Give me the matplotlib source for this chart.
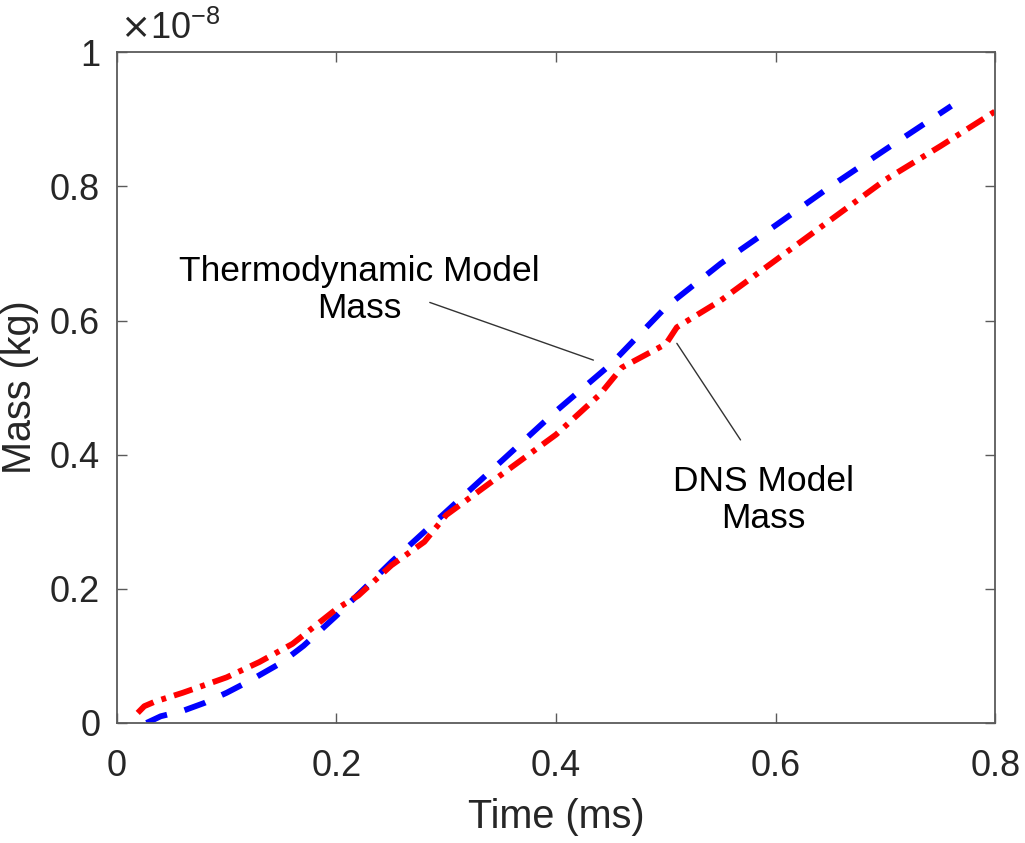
import matplotlib
matplotlib.use('Agg')
import matplotlib.pyplot as plt

plt.rcParams['font.family'] = ['Liberation Sans', 'DejaVu Sans']
plt.rcParams['lines.scale_dashes'] = False

# ── Data (mass in units of 1e-8 kg) ─────────────────────────
thermo_t = [0.027, 0.04, 0.06, 0.08, 0.10, 0.12, 0.15, 0.17, 0.20, 0.25,
            0.30, 0.35, 0.40, 0.45, 0.50, 0.55, 0.60, 0.65, 0.70, 0.76]
thermo_m = [0.0, 0.010, 0.018, 0.030, 0.045, 0.062, 0.090, 0.115, 0.160, 0.240,
            0.315, 0.390, 0.465, 0.535, 0.620, 0.685, 0.742, 0.800, 0.855, 0.920]

dns_t = [0.019, 0.025, 0.035, 0.06, 0.10, 0.13, 0.16, 0.20, 0.22, 0.25, 0.28,
         0.30, 0.35, 0.40, 0.44, 0.46, 0.50, 0.51, 0.55, 0.60, 0.65, 0.70,
         0.75, 0.80]
dns_m = [0.015, 0.025, 0.032, 0.045, 0.068, 0.091, 0.118, 0.170, 0.190, 0.235,
         0.270, 0.310, 0.370, 0.430, 0.490, 0.530, 0.565, 0.590, 0.630, 0.690,
         0.750, 0.810, 0.860, 0.912]

x_ticks = [0, 0.2, 0.4, 0.6, 0.8]
x_labels = ['0', '0.2', '0.4', '0.6', '0.8']
y_ticks = [0, 0.2, 0.4, 0.6, 0.8, 1]
y_labels = ['0', '0.2', '0.4', '0.6', '0.8', '1']

# annotation text positions and leader lines (data coords)
thermo_label_xy = (0.221, 0.645)
thermo_leader = ((0.285, 0.627), (0.434, 0.541))
dns_label_xy = (0.589, 0.332)
dns_leader = ((0.568, 0.422), (0.510, 0.566))

# ── Plot ─────────────────────────────────────────────────────
fig = plt.figure(figsize=(10.25, 8.43), dpi=100)
ax = fig.add_axes([0.114, 0.1424, 0.857, 0.7956])

ax.plot(thermo_t, thermo_m, color='#0000ff', linewidth=4.2, dashes=(16, 13))
ax.plot(dns_t, dns_m, color='#ff0000', linewidth=4.2, dashes=(14, 6, 3.5, 6))

ax.set_xlim(0, 0.8)
ax.set_ylim(0, 1)
ax.set_xticks(x_ticks)
ax.set_xticklabels(x_labels)
ax.set_yticks(y_ticks)
ax.set_yticklabels(y_labels)

edge = '#262626'
for s in ax.spines.values():
    s.set_color('#5a5a5a')
    s.set_linewidth(1.3)
ax.tick_params(direction='in', length=7, width=1.0, colors='#5a5a5a',
               labelcolor=edge, labelsize=26, top=True, right=True)
ax.tick_params(axis='x', pad=19)
ax.tick_params(axis='y', pad=12)

ax.set_xlabel('Time (ms)', fontsize=28.5, color=edge, labelpad=10)
ax.set_ylabel('Mass (kg)', fontsize=28.5, color=edge, labelpad=8)

ax.text(0.004, 1.008, r'$\times$10$^{\mathregular{-8}}$', transform=ax.transAxes,
        fontsize=26, color=edge, ha='left', va='bottom')

# ── Annotations ──────────────────────────────────────────────
ax.text(*thermo_label_xy, 'Thermodynamic Model\nMass', fontsize=25.5,
        color='black', ha='center', va='center', linespacing=1.15)
ax.annotate('', xy=thermo_leader[1], xytext=thermo_leader[0],
            arrowprops=dict(arrowstyle='-', color='#333333', lw=1.0,
                            shrinkA=0, shrinkB=0))
ax.text(*dns_label_xy, 'DNS Model\nMass', fontsize=25.5,
        color='black', ha='center', va='center', linespacing=1.15)
ax.annotate('', xy=dns_leader[1], xytext=dns_leader[0],
            arrowprops=dict(arrowstyle='-', color='#333333', lw=1.0,
                            shrinkA=0, shrinkB=0))

plt.savefig('out.png', dpi=100)
